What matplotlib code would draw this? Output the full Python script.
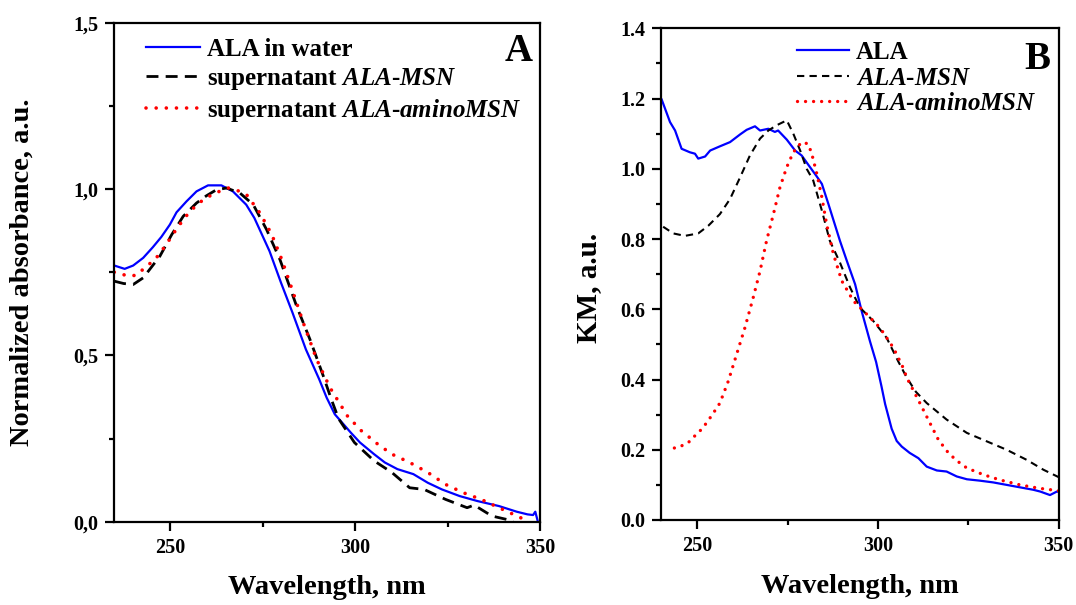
import numpy as np
import matplotlib
matplotlib.use("Agg")
import matplotlib.pyplot as plt
from matplotlib.ticker import MultipleLocator, FuncFormatter

plt.rcParams['font.family'] = ['Liberation Serif', 'DejaVu Serif']
plt.rcParams['font.weight'] = 'bold'
plt.rcParams['mathtext.fontset'] = 'custom'
plt.rcParams['mathtext.rm'] = 'Liberation Serif:bold'
plt.rcParams['mathtext.it'] = 'Liberation Serif:italic:bold'
plt.rcParams['mathtext.bf'] = 'Liberation Serif:bold'

# ---- panel A: normalized absorbance ----
wl_a_ala = [235.0, 237.8, 240.1, 242.8, 245.4, 247.7, 250.0, 251.8, 254.5, 257.2,
            260.3, 263.9, 267.0, 270.6, 272.8, 276.9, 280.0, 283.1, 286.7, 290.3,
            292.3, 294.5, 298.8, 301.3, 305.1, 308.0, 311.4, 315.7, 319.6, 323.4,
            328.2, 333.0, 338.8, 343.6, 346.5, 348.0, 348.6, 349.3]
abs_ala = [0.770, 0.760, 0.770, 0.793, 0.825, 0.856, 0.893, 0.930, 0.963, 0.993,
           1.011, 1.011, 0.993, 0.953, 0.913, 0.813, 0.718, 0.628, 0.518, 0.428,
           0.373, 0.323, 0.268, 0.238, 0.203, 0.178, 0.158, 0.143, 0.117, 0.097,
           0.077, 0.062, 0.047, 0.030, 0.022, 0.020, 0.030, 0.0]

wl_a_msn = [235.0, 237.5, 240.1, 242.8, 247.3, 250.5, 253.6, 257.2, 259.9, 262.6,
            265.3, 268.9, 272.5, 276.1, 279.7, 284.2, 287.8, 291.4, 293.5, 295.5,
            299.8, 305.1, 309.9, 314.7, 318.6, 324.4, 330.2, 332.1, 336.9, 340.8,
            342.7]
abs_msn = [0.723, 0.716, 0.713, 0.733, 0.798, 0.863, 0.918, 0.958, 0.980, 0.998,
           1.003, 0.988, 0.953, 0.878, 0.788, 0.648, 0.548, 0.438, 0.370, 0.310,
           0.238, 0.183, 0.148, 0.102, 0.097, 0.067, 0.042, 0.050, 0.017, 0.007,
           0.0]

wl_a_amino = [235.0, 236.5, 238.8, 241.0, 243.7, 246.0, 248.7, 252.3, 255.4, 259.0,
              262.2, 265.8, 268.9, 270.7, 274.3, 277.5, 280.2, 283.3, 286.0, 289.6,
              293.2, 297.9, 301.7, 306.1, 309.9, 314.7, 319.6, 324.4, 329.2, 334.0,
              338.8, 342.7, 345.6]
abs_amino = [0.750, 0.746, 0.738, 0.741, 0.768, 0.788, 0.828, 0.888, 0.933, 0.968,
             0.988, 1.003, 0.993, 0.983, 0.928, 0.863, 0.788, 0.688, 0.598, 0.488,
             0.403, 0.318, 0.273, 0.233, 0.203, 0.178, 0.148, 0.112, 0.087, 0.067,
             0.042, 0.022, 0.007]

# ---- panel B: Kubelka-Munk ----
wl_b_ala = [240.2, 242.5, 243.9, 245.7, 248.0, 249.4, 250.3, 252.2, 253.6, 256.3,
            259.1, 261.9, 263.7, 266.0, 267.4, 269.7, 271.5, 272.4, 274.8, 277.1,
            278.9, 281.2, 283.1, 284.5, 286.3, 289.5, 291.4, 293.7, 295.5, 297.8,
            299.5, 301.0, 302.0, 303.8, 305.2, 306.6, 308.8, 311.2, 313.5, 316.3,
            319.0, 321.8, 324.6, 328.2, 331.9, 335.6, 339.3, 343.0, 344.9, 347.6,
            349.5, 350.0]
km_ala = [1.197, 1.133, 1.109, 1.057, 1.047, 1.043, 1.029, 1.035, 1.052, 1.064,
          1.076, 1.098, 1.111, 1.121, 1.109, 1.114, 1.105, 1.109, 1.083, 1.052,
          1.038, 1.005, 0.978, 0.957, 0.900, 0.795, 0.738, 0.671, 0.595, 0.509,
          0.450, 0.380, 0.330, 0.260, 0.225, 0.209, 0.191, 0.176, 0.152, 0.141,
          0.138, 0.124, 0.116, 0.112, 0.107, 0.100, 0.093, 0.086, 0.081, 0.071,
          0.081, 0.080]

wl_b_msn = [240.6, 243.4, 246.6, 250.3, 253.1, 256.3, 259.1, 261.9, 264.6, 267.4,
            269.7, 272.0, 274.8, 276.6, 278.5, 280.3, 282.1, 284.5, 286.7, 289.5,
            292.3, 295.0, 298.7, 302.4, 305.6, 308.0, 310.5, 313.5, 319.0, 324.6,
            330.1, 335.6, 341.2, 345.8, 350.0]
km_msn = [0.835, 0.816, 0.809, 0.816, 0.838, 0.871, 0.914, 0.976, 1.038, 1.086,
          1.109, 1.124, 1.138, 1.100, 1.052, 1.000, 0.967, 0.881, 0.795, 0.733,
          0.662, 0.605, 0.567, 0.519, 0.452, 0.405, 0.365, 0.333, 0.286, 0.248,
          0.224, 0.200, 0.171, 0.143, 0.122]

wl_b_amino = [243.7, 245.5, 248.0, 249.4, 251.3, 252.7, 254.2, 256.3, 258.6, 260.9,
              263.2, 265.5, 267.4, 269.2, 271.1, 272.9, 274.8, 276.6, 278.9, 280.7,
              281.7, 283.1, 284.5, 285.8, 287.7, 290.0, 293.2, 296.9, 300.6, 304.3,
              307.0, 308.0, 311.6, 314.4, 316.7, 319.5, 321.8, 324.6, 329.2, 333.8,
              339.3, 344.8, 349.5, 350.0]
km_amino = [0.205, 0.210, 0.224, 0.240, 0.259, 0.278, 0.300, 0.333, 0.395, 0.471,
            0.547, 0.633, 0.709, 0.795, 0.871, 0.947, 1.005, 1.047, 1.076, 1.071,
            1.043, 0.986, 0.919, 0.843, 0.757, 0.681, 0.624, 0.586, 0.547, 0.490,
            0.433, 0.405, 0.333, 0.276, 0.229, 0.191, 0.169, 0.148, 0.129, 0.114,
            0.100, 0.090, 0.084, 0.083]

fig = plt.figure(figsize=(10.76, 6.05), dpi=100)
ax1 = fig.add_axes([0.1062, 0.1377, 0.3961, 0.8248])
ax2 = fig.add_axes([0.6143, 0.1405, 0.3696, 0.8127])

# panel A
ax1.plot(wl_a_ala, abs_ala, color='#0000ff', lw=1.6, label='ALA in water')
ax1.plot(wl_a_msn, abs_msn, color='black', lw=2.0, linestyle=(0, (4.3, 2.6)),
         label=r'supernatant $ALA$-$MSN$')
ax1.plot(wl_a_amino, abs_amino, color='#ff0000', lw=2.6, linestyle=(0, (0.01, 2.8)),
         dash_capstyle='round', label=r'supernatant $ALA$-$aminoMSN$')
ax1.set_xlim(235, 350)
ax1.set_ylim(0, 1.5)
ax1.xaxis.set_major_locator(MultipleLocator(50))
ax1.xaxis.set_minor_locator(MultipleLocator(25))
ax1.yaxis.set_major_locator(MultipleLocator(0.5))
ax1.yaxis.set_minor_locator(MultipleLocator(0.25))
ax1.yaxis.set_major_formatter(FuncFormatter(lambda v, p: f'{v:.1f}'.replace('.', ',')))
ax1.set_xlabel('Wavelength, nm', fontsize=20.5, fontweight='bold')
ax1.set_ylabel('Normalized absorbance, a.u.', fontsize=20.5, fontweight='bold')
ax1.xaxis.set_label_coords(0.5, -0.106)
ax1.yaxis.set_label_coords(-0.186, 0.5)
ax1.text(0.982, 0.943, 'A', transform=ax1.transAxes, fontsize=28, fontweight='bold',
         ha='right', va='center')
ax1.legend(loc='upper left', bbox_to_anchor=(0.074, 0.97), frameon=False,
           borderaxespad=0, borderpad=0,
           handlelength=2.15, handletextpad=0.28, labelspacing=0.2,
           prop=dict(size=18, weight='bold'))

# panel B
ax2.plot(wl_b_ala, km_ala, color='#0000ff', lw=1.6, label='ALA')
ax2.plot(wl_b_msn, km_msn, color='black', lw=1.5, linestyle=(0, (3.5, 2.5)),
         label=r'$ALA$-$MSN$')
ax2.plot(wl_b_amino, km_amino, color='#ff0000', lw=2.4, linestyle=(0, (0.01, 2.4)),
         dash_capstyle='round', label=r'$ALA$-$aminoMSN$')
ax2.set_xlim(240, 350)
ax2.set_ylim(0, 1.4)
ax2.xaxis.set_major_locator(MultipleLocator(50))
ax2.xaxis.set_minor_locator(MultipleLocator(25))
ax2.yaxis.set_major_locator(MultipleLocator(0.2))
ax2.yaxis.set_minor_locator(MultipleLocator(0.1))
ax2.yaxis.set_major_formatter(FuncFormatter(lambda v, p: f'{v:.1f}'))
ax2.set_xlabel('Wavelength, nm', fontsize=20.5, fontweight='bold')
ax2.set_ylabel('KM, a.u.', fontsize=21, fontweight='bold')
ax2.xaxis.set_label_coords(0.5, -0.109)
ax2.yaxis.set_label_coords(-0.148, 0.472)
ax2.text(0.978, 0.937, 'B', transform=ax2.transAxes, fontsize=28, fontweight='bold',
         ha='right', va='center')
ax2.legend(loc='upper left', bbox_to_anchor=(0.342, 0.974), frameon=False,
           borderaxespad=0, borderpad=0,
           handlelength=2.1, handletextpad=0.25, labelspacing=0.1,
           prop=dict(size=18, weight='bold'))

for ax in (ax1, ax2):
    for s in ax.spines.values():
        s.set_linewidth(1.6)
    ax.tick_params(which='both', direction='out', top=False, right=False,
                   labelsize=14.5, width=1.6, pad=5)
    ax.tick_params(which='major', length=6.5)
    ax.tick_params(which='minor', length=3.5)
    for lbl in ax.get_xticklabels() + ax.get_yticklabels():
        lbl.set_fontweight('bold')

fig.savefig('out.png', dpi=100)
